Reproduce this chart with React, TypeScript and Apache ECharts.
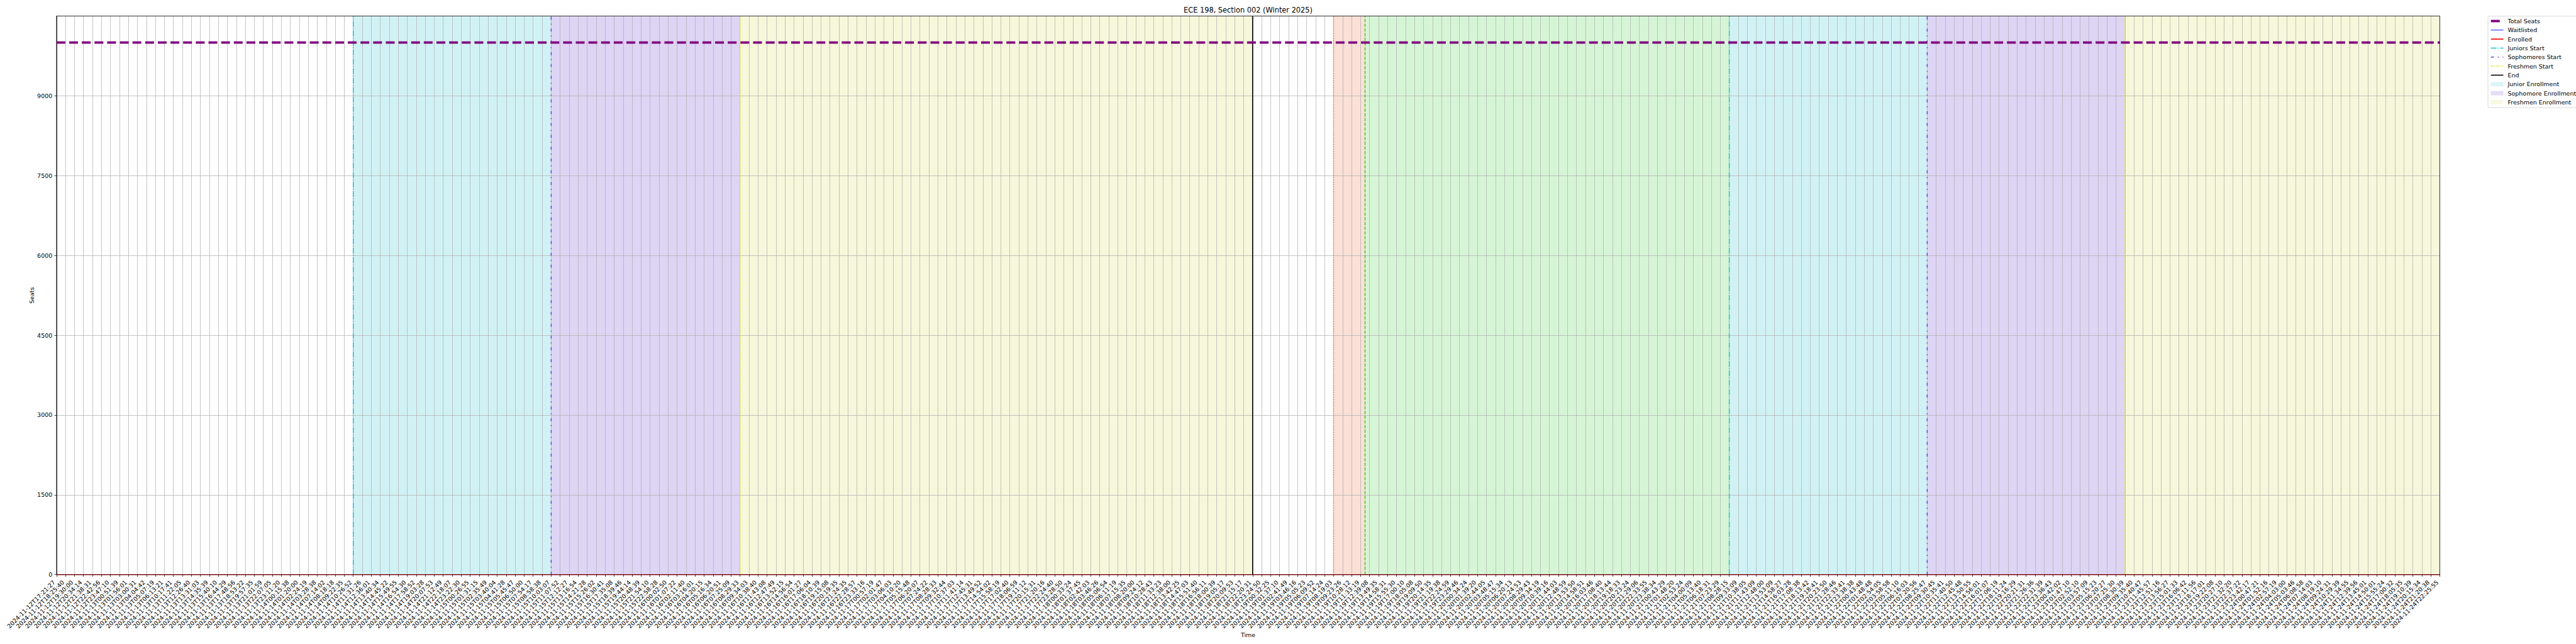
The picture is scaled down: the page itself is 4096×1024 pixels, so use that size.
import React, { useEffect, useRef } from "react";
import * as echarts from "echarts";

// ---------- data ----------
const times: string[] = [
  "2024-11-12T17:21:27", "2024-11-12T18:25:40", "2024-11-12T19:30:00", "2024-11-12T20:34:14", "2024-11-12T21:38:31",
  "2024-11-12T22:42:56", "2024-11-12T23:47:10", "2024-11-13T00:51:39", "2024-11-13T01:56:01", "2024-11-13T03:00:31",
  "2024-11-13T04:04:42", "2024-11-13T05:07:19", "2024-11-13T06:13:21", "2024-11-13T10:17:41", "2024-11-13T11:22:05",
  "2024-11-13T12:26:40", "2024-11-13T13:31:03", "2024-11-13T14:35:39", "2024-11-13T15:40:10", "2024-11-13T16:44:29",
  "2024-11-13T17:48:56", "2024-11-13T18:53:22", "2024-11-13T19:57:35", "2024-11-13T21:01:59", "2024-11-13T22:07:05",
  "2024-11-13T23:11:20", "2024-11-14T00:15:38", "2024-11-14T01:20:00", "2024-11-14T02:24:19", "2024-11-14T03:28:38",
  "2024-11-14T07:14:02", "2024-11-14T08:18:18", "2024-11-14T09:22:35", "2024-11-14T10:26:52", "2024-11-14T11:31:26",
  "2024-11-14T12:36:01", "2024-11-14T13:40:34", "2024-11-14T14:45:22", "2024-11-14T15:49:55", "2024-11-14T16:54:30",
  "2024-11-14T17:58:52", "2024-11-14T19:03:28", "2024-11-14T20:07:53", "2024-11-14T21:12:49", "2024-11-14T22:18:07",
  "2024-11-14T23:22:30", "2024-11-15T00:26:55", "2024-11-15T01:31:15", "2024-11-15T02:35:49", "2024-11-15T03:40:04",
  "2024-11-15T04:41:28", "2024-11-15T05:45:47", "2024-11-15T06:50:00", "2024-11-15T07:54:17", "2024-11-15T08:58:38",
  "2024-11-15T10:03:07", "2024-11-15T11:07:52", "2024-11-15T12:12:27", "2024-11-15T13:16:54", "2024-11-15T14:21:28",
  "2024-11-15T15:26:02", "2024-11-15T16:30:41", "2024-11-15T17:35:08", "2024-11-15T18:39:46", "2024-11-15T19:44:14",
  "2024-11-15T20:48:39", "2024-11-15T21:54:10", "2024-11-15T22:58:28", "2024-11-16T00:02:50", "2024-11-16T01:07:22",
  "2024-11-16T02:11:40", "2024-11-16T03:16:01", "2024-11-16T04:20:15", "2024-11-16T05:16:34", "2024-11-16T06:20:51",
  "2024-11-16T07:25:09", "2024-11-16T08:29:33", "2024-11-16T09:34:03", "2024-11-16T10:38:40", "2024-11-16T11:43:08",
  "2024-11-16T12:47:49", "2024-11-16T13:52:15", "2024-11-16T14:56:54", "2024-11-16T16:01:27", "2024-11-16T17:06:04",
  "2024-11-16T18:10:39", "2024-11-16T19:15:08", "2024-11-16T20:19:35", "2024-11-16T21:24:35", "2024-11-16T22:28:57",
  "2024-11-16T23:33:16", "2024-11-17T00:57:19", "2024-11-17T02:01:47", "2024-11-17T03:06:03", "2024-11-17T04:10:20",
  "2024-11-17T05:15:48", "2024-11-17T06:20:07", "2024-11-17T07:24:22", "2024-11-17T08:28:33", "2024-11-17T09:32:44",
  "2024-11-17T10:37:03", "2024-11-17T11:41:14", "2024-11-17T12:45:31", "2024-11-17T13:49:52", "2024-11-17T14:54:02",
  "2024-11-17T15:58:19", "2024-11-17T17:02:40", "2024-11-17T18:06:59", "2024-11-17T19:11:12", "2024-11-17T20:15:31",
  "2024-11-17T21:20:16", "2024-11-17T22:24:40", "2024-11-17T23:28:50", "2024-11-18T00:33:24", "2024-11-18T01:37:45",
  "2024-11-18T02:42:03", "2024-11-18T03:46:26", "2024-11-18T05:06:54", "2024-11-18T06:11:19", "2024-11-18T07:15:35",
  "2024-11-18T08:20:00", "2024-11-18T09:24:12", "2024-11-18T10:28:43", "2024-11-18T11:33:23", "2024-11-18T12:38:00",
  "2024-11-18T13:42:25", "2024-11-18T14:47:03", "2024-11-18T15:51:40", "2024-11-18T16:56:11", "2024-11-18T18:00:39",
  "2024-11-18T19:05:17", "2024-11-18T20:09:53", "2024-11-18T21:15:17", "2024-11-18T22:20:31", "2024-11-18T23:24:50",
  "2024-11-19T00:32:25", "2024-11-19T01:37:10", "2024-11-19T02:41:49", "2024-11-19T03:46:16", "2024-11-19T05:05:23",
  "2024-11-19T06:09:52", "2024-11-19T07:14:24", "2024-11-19T08:19:03", "2024-11-19T09:23:26", "2024-11-19T10:28:12",
  "2024-11-19T11:33:19", "2024-11-19T12:39:08", "2024-11-19T13:49:35", "2024-11-19T14:58:31", "2024-11-19T15:55:30",
  "2024-11-19T17:00:10", "2024-11-19T18:05:08", "2024-11-19T19:09:50", "2024-11-19T20:14:35", "2024-11-19T21:19:38",
  "2024-11-19T22:24:59", "2024-11-19T23:29:46", "2024-11-20T00:34:24", "2024-11-20T01:39:20", "2024-11-20T02:44:05",
  "2024-11-20T03:48:47", "2024-11-20T05:15:34", "2024-11-20T06:20:13", "2024-11-20T07:24:53", "2024-11-20T08:29:43",
  "2024-11-20T09:34:19", "2024-11-20T10:39:16", "2024-11-20T11:44:03", "2024-11-20T12:48:59", "2024-11-20T13:53:50",
  "2024-11-20T14:58:51", "2024-11-20T16:03:46", "2024-11-20T17:08:40", "2024-11-20T18:13:44", "2024-11-20T19:18:33",
  "2024-11-20T20:23:24", "2024-11-20T21:29:06", "2024-11-20T22:33:55", "2024-11-20T23:38:34", "2024-11-21T00:43:29",
  "2024-11-21T01:48:20", "2024-11-21T02:53:24", "2024-11-21T04:00:09", "2024-11-21T05:13:40", "2024-11-21T06:18:31",
  "2024-11-21T07:23:29", "2024-11-21T08:28:15", "2024-11-21T09:33:09", "2024-11-21T10:38:05", "2024-11-21T11:43:09",
  "2024-11-21T12:48:00", "2024-11-21T13:53:09", "2024-11-21T14:58:27", "2024-11-21T16:03:28", "2024-11-21T17:08:38",
  "2024-11-21T18:13:42", "2024-11-21T19:18:41", "2024-11-21T20:23:50", "2024-11-21T21:28:46", "2024-11-21T22:33:41",
  "2024-11-21T23:38:38", "2024-11-22T00:43:48", "2024-11-22T01:48:48", "2024-11-22T02:54:05", "2024-11-22T03:58:58",
  "2024-11-22T05:11:10", "2024-11-22T06:16:03", "2024-11-22T07:20:56", "2024-11-22T08:25:47", "2024-11-22T09:30:45",
  "2024-11-22T10:35:41", "2024-11-22T11:40:50", "2024-11-22T12:45:48", "2024-11-22T13:50:55", "2024-11-22T14:56:01",
  "2024-11-22T16:01:07", "2024-11-22T17:06:19", "2024-11-22T18:11:24", "2024-11-22T19:16:29", "2024-11-22T20:21:31",
  "2024-11-22T21:26:36", "2024-11-22T22:31:39", "2024-11-22T23:36:43", "2024-11-23T00:42:02", "2024-11-23T01:47:10",
  "2024-11-23T02:52:10", "2024-11-23T03:57:09", "2024-11-23T05:15:23", "2024-11-23T06:20:27", "2024-11-23T07:25:30",
  "2024-11-23T08:30:39", "2024-11-23T09:35:40", "2024-11-23T10:40:47", "2024-11-23T11:45:57", "2024-11-23T12:51:16",
  "2024-11-23T13:56:27", "2024-11-23T15:01:33", "2024-11-23T16:06:42", "2024-11-23T17:11:56", "2024-11-23T18:17:01",
  "2024-11-23T19:22:08", "2024-11-23T20:27:10", "2024-11-23T21:32:20", "2024-11-23T22:37:22", "2024-11-23T23:42:17",
  "2024-11-24T00:47:21", "2024-11-24T01:52:16", "2024-11-24T02:57:19", "2024-11-24T04:03:00", "2024-11-24T05:03:46",
  "2024-11-24T06:08:58", "2024-11-24T07:14:03", "2024-11-24T08:19:10", "2024-11-24T09:24:31", "2024-11-24T10:29:39",
  "2024-11-24T11:34:55", "2024-11-24T12:39:56", "2024-11-24T13:45:01", "2024-11-24T14:50:01", "2024-11-24T15:55:24",
  "2024-11-24T17:00:32", "2024-11-24T18:05:35", "2024-11-24T19:10:39", "2024-11-24T20:15:34", "2024-11-24T21:20:38",
  "2024-11-24T22:25:55",
];

const totalSeats = 10000;
const waitlisted = 0;
const enrolled = 0;

const yTicks = [0, 1500, 3000, 4500, 6000, 7500, 9000];
const yMax = 10499;

// positions (index on the time axis)
const juniorsStart = [33, 186];
const sophomoresStart = [55, 208];
const freshmenStart = [76, 230];
const endPos = [133];
const firstPassStart = [142];
const secondPassStart = [145.5];

const juniorBands = [[33, 55], [186, 208]];
const sophomoreBands = [[55, 76], [208, 230]];
const freshmenBands = [[76, 133], [230, 265]];
const firstPassBands = [[142, 145.5]];
const secondPassBands = [[145.5, 186]];

// ---------- layout helpers ----------
const S = 4096 / 6000;
const p = (v: number) => v * S;
const FONT = "DejaVu Sans";
const FS = p(13.89);
const LW = p(2.08);

function vline(name: string, pos: number, color: string, width: number, dash: any) {
  return {
    name,
    type: "line",
    data: [[pos, 0], [pos, yMax]],
    symbol: "none",
    showSymbol: false,
    silent: true,
    z: 3,
    lineStyle: { color, width, type: dash, cap: "butt" },
    itemStyle: { color },
    emphasis: { disabled: true },
  };
}

function band(name: string, ranges: number[][], color: string) {
  return {
    name,
    type: "scatter",
    data: [],
    symbol: "rect",
    silent: true,
    z: 1,
    itemStyle: { color },
    markArea: {
      silent: true,
      label: { show: false },
      emphasis: { disabled: true },
      itemStyle: { color },
      data: ranges.map(([a, b]) => [{ xAxis: a }, { xAxis: b }]),
    },
  };
}

export default function App() {
  const ref = useRef<HTMLDivElement>(null);
  useEffect(() => {
    if (!ref.current) return;
    const chart = echarts.init(ref.current, null, { renderer: "svg" });
    const idx = times.map((_, i) => i);

    const cyanLine = "#17becf";
    const purpleLine = "#6a35dc";
    const yellowLine = "#dede30";
    const orangeLine = "#f06a28";
    const greenLine = "#3cc81e";

    const series: any[] = [
      band("Junior Enrollment", juniorBands, "rgba(23,190,207,0.2)"),
      band("Sophomore Enrollment", sophomoreBands, "rgba(147,112,219,0.3)"),
      band("Freshmen Enrollment", freshmenBands, "rgba(205,208,40,0.17)"),
      band("First Pass Enrollment", firstPassBands, "rgba(230,100,50,0.2)"),
      band("Second Pass Enrollment", secondPassBands, "rgba(50,205,50,0.2)"),
      {
        name: "Total Seats",
        type: "line",
        data: idx.map((i) => [i, totalSeats]),
        symbol: "none",
        silent: true,
        z: 4,
        lineStyle: { color: "#800080", width: p(5.56), type: [p(20.6), p(8.9)], cap: "butt" },
        itemStyle: { color: "#800080" },
        emphasis: { disabled: true },
      },
      {
        name: "Waitlisted",
        type: "line",
        data: idx.map((i) => [i, waitlisted]),
        symbol: "none",
        silent: true,
        z: 4,
        lineStyle: { color: "#0000ff", width: p(1.39) },
        itemStyle: { color: "#0000ff" },
        emphasis: { disabled: true },
      },
      {
        name: "Enrolled",
        type: "line",
        data: idx.map((i) => [i, enrolled]),
        symbol: "none",
        silent: true,
        z: 4,
        lineStyle: { color: "#ff0000", width: p(2.4) },
        itemStyle: { color: "#ff0000" },
        emphasis: { disabled: true },
      },
      ...juniorsStart.map((x) => vline("Juniors Start", x, cyanLine, LW, [p(13.3), p(3.3), p(2.1), p(3.3)])),
      ...sophomoresStart.map((x) => vline("Sophomores Start", x, purpleLine, LW, [p(7), p(9), p(2.5), p(9)])),
      ...freshmenStart.map((x) => vline("Freshmen Start", x, yellowLine, LW, [p(6.2), p(2.1), p(2.1), p(2.1)])),
      ...endPos.map((x) => vline("End", x, "#000000", p(2.3), "solid")),
      ...firstPassStart.map((x) => vline("First Pass Start", x, orangeLine, LW, [p(2.1), p(3.4)])),
      ...secondPassStart.map((x) => vline("Second Pass Start", x, greenLine, LW, [p(7.7), p(3.3)])),
    ];

    const legendNames = [
      "Total Seats", "Waitlisted", "Enrolled", "Juniors Start", "Sophomores Start",
      "Freshmen Start", "End",
    ];
    const bandLegend = ["Junior Enrollment", "Sophomore Enrollment", "Freshmen Enrollment"];

    const rowH = p(13.89);
    const iconH = p(10.3);

    chart.setOption({
      animation: false,
      backgroundColor: "#ffffff",
      grid: {
        left: p(131.6),
        top: p(37.3),
        width: p(5682.7 - 131.6),
        height: p(1338.5 - 37.3),
        show: true,
        borderColor: "#000000",
        borderWidth: p(1.1),
        backgroundColor: "transparent",
        z: 5,
      },
      xAxis: {
        type: "value",
        min: 0,
        max: times.length - 1,
        interval: 1,
        z: 2,
        axisLine: { show: true, onZero: false, lineStyle: { color: "#000", width: p(1.1) } },
        axisTick: { show: true, inside: false, length: p(4.86), lineStyle: { color: "#000", width: p(1.1) } },
        splitLine: { show: true, lineStyle: { color: "#b0b0b0", width: p(1.1) } },
        axisLabel: {
          show: true,
          rotate: 45,
          margin: p(9.8),
          padding: [0, p(8), 0, 0],
          fontFamily: FONT,
          fontSize: FS,
          color: "#000",
          showMinLabel: true,
          showMaxLabel: true,
          hideOverlap: false,
          formatter: (v: number) => times[Math.round(v)] ?? "",
        },
      },
      yAxis: {
        type: "value",
        min: 0,
        max: yMax,
        interval: 1500,
        z: 2,
        axisLine: { show: true, lineStyle: { color: "#000", width: p(1.1) } },
        axisTick: { show: true, inside: false, length: p(4.86), lineStyle: { color: "#000", width: p(1.1) } },
        splitLine: { show: true, lineStyle: { color: "#b0b0b0", width: p(1.1) } },
        axisLabel: {
          margin: p(9.7),
          fontFamily: FONT,
          fontSize: FS,
          color: "#000",
          showMaxLabel: false,
          formatter: (v: number) => (yTicks.includes(v) ? String(v) : ""),
        },
      },
      legend: {
        orient: "vertical",
        left: p(5795),
        top: p(37.7),
        padding: [p(4.4), p(1), p(5.7), p(4)],
        itemWidth: p(29),
        itemHeight: iconH,
        itemGap: p(21) - rowH,
        selectedMode: false,
        backgroundColor: "rgba(255,255,255,0.8)",
        borderColor: "#cccccc",
        borderWidth: p(1.1),
        borderRadius: p(3),
        lineStyle: { width: "inherit" },
        textStyle: {
          fontFamily: FONT,
          fontSize: FS,
          color: "#000",
          lineHeight: rowH,
          padding: [0, 0, 0, p(3)],
        },
        data: [
          ...legendNames.map((n) => ({ name: n, itemStyle: { opacity: 0 } })),
          ...bandLegend.map((n) => ({ name: n, icon: "rect" })),
        ],
      },
      graphic: [
        {
          type: "text",
          x: p(2907),
          y: p(23.5),
          z: 10,
          style: {
            text: "ECE 198, Section 002 (Winter 2025)",
            fontFamily: FONT,
            fontSize: p(16.67),
            fill: "#000",
            align: "center",
            verticalAlign: "middle",
          },
        },
        {
          type: "text",
          x: p(2907),
          y: p(1478.5),
          z: 10,
          style: {
            text: "Time",
            fontFamily: FONT,
            fontSize: FS,
            fill: "#000",
            align: "center",
            verticalAlign: "middle",
          },
        },
        {
          type: "text",
          x: p(74.2),
          y: p(688),
          rotation: Math.PI / 2,
          z: 10,
          style: {
            text: "Seats",
            fontFamily: FONT,
            fontSize: FS,
            fill: "#000",
            align: "center",
            verticalAlign: "middle",
          },
        },
      ],
      series,
    });
    return () => chart.dispose();
  }, []);

  return (
    <div
      ref={ref}
      style={{ position: "absolute", left: 0, top: 0, width: 4096, height: 1024, background: "#fff" }}
    />
  );
}
